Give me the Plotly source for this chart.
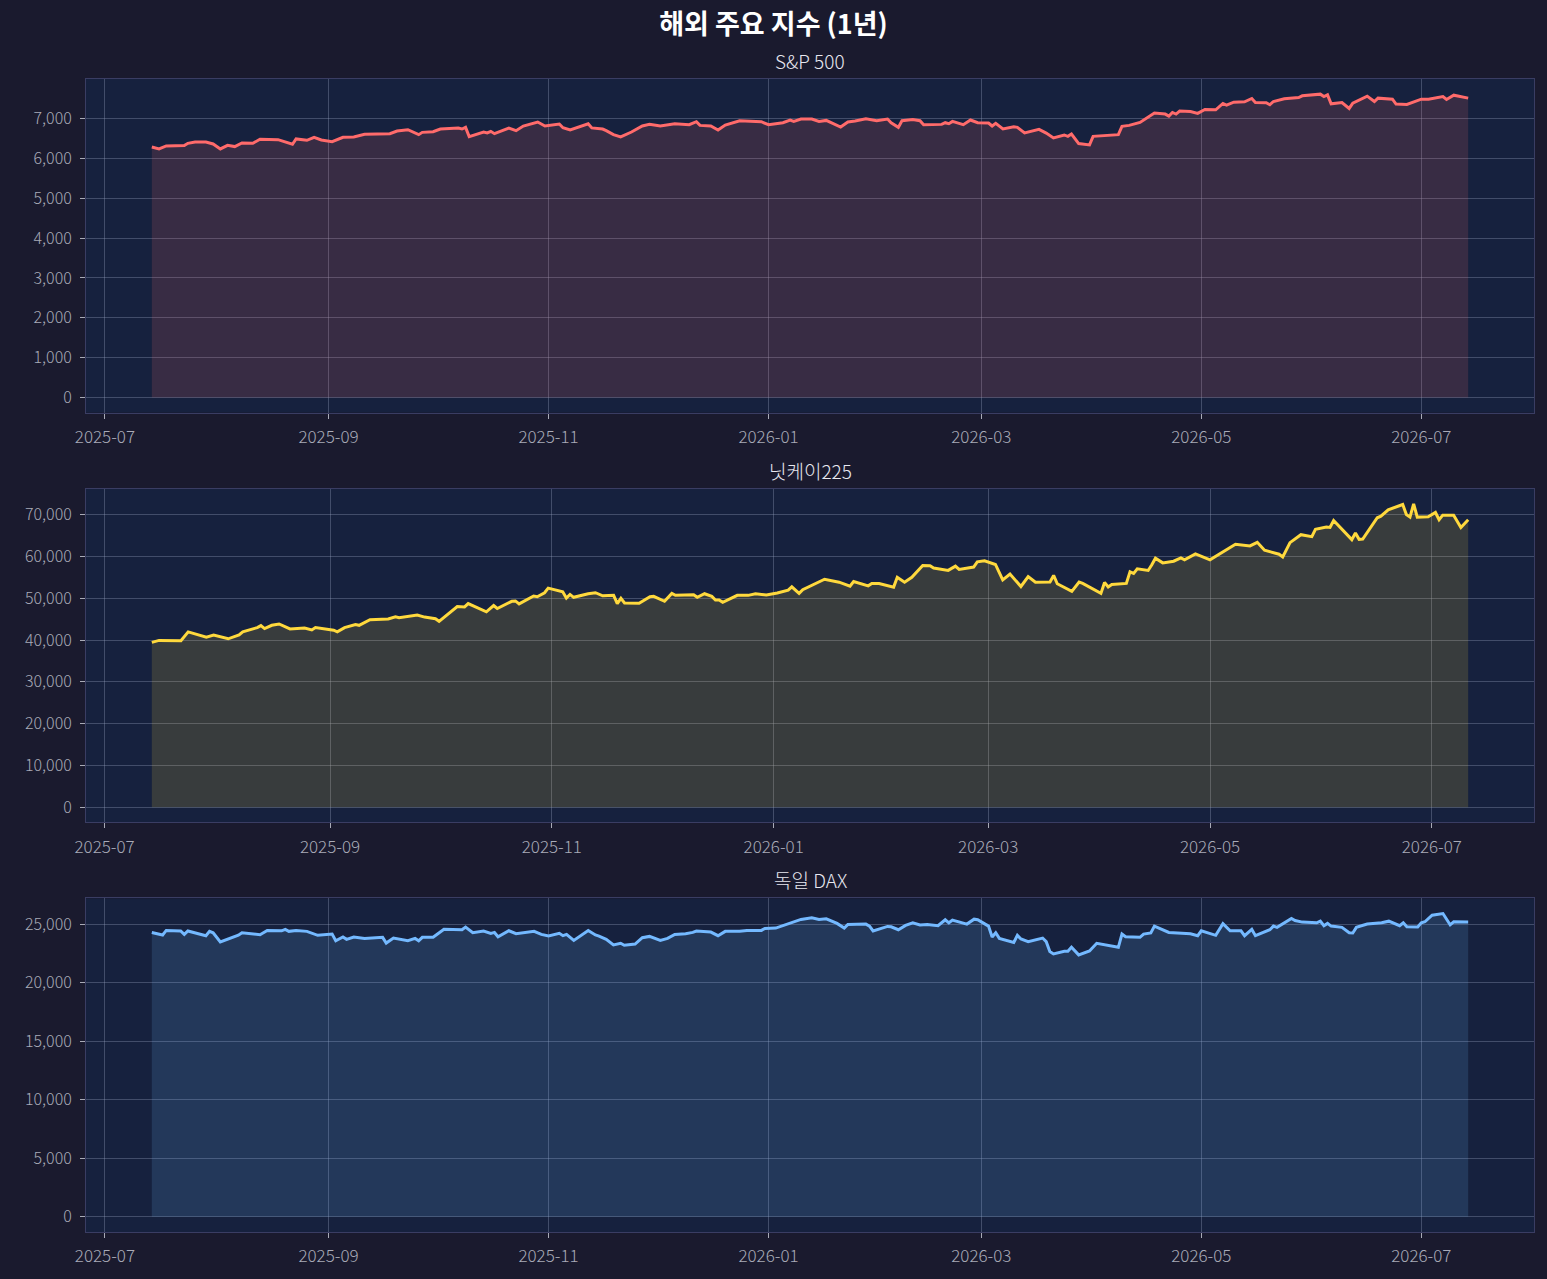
import pandas as pd
import plotly.graph_objects as go
from plotly.subplots import make_subplots

# S&P 500
sp_dates = ["2025-07-14", "2025-07-16", "2025-07-18", "2025-07-23", "2025-07-24", "2025-07-26", "2025-07-29",
            "2025-07-31", "2025-08-02", "2025-08-04", "2025-08-06", "2025-08-08", "2025-08-11", "2025-08-13",
            "2025-08-18", "2025-08-22", "2025-08-23", "2025-08-26", "2025-08-28", "2025-08-30", "2025-09-02",
            "2025-09-05", "2025-09-08", "2025-09-11", "2025-09-18", "2025-09-20", "2025-09-23", "2025-09-26",
            "2025-09-27", "2025-09-30", "2025-10-02", "2025-10-07", "2025-10-08", "2025-10-09", "2025-10-10",
            "2025-10-14", "2025-10-15", "2025-10-16", "2025-10-17", "2025-10-21", "2025-10-23", "2025-10-25",
            "2025-10-29", "2025-10-31", "2025-11-04", "2025-11-05", "2025-11-07", "2025-11-12", "2025-11-13",
            "2025-11-16", "2025-11-17", "2025-11-19", "2025-11-21", "2025-11-24", "2025-11-27", "2025-11-29",
            "2025-12-02", "2025-12-06", "2025-12-10", "2025-12-12", "2025-12-13", "2025-12-16", "2025-12-18",
            "2025-12-20", "2025-12-24", "2025-12-30", "2026-01-01", "2026-01-05", "2026-01-07", "2026-01-08",
            "2026-01-10", "2026-01-13", "2026-01-15", "2026-01-17", "2026-01-21", "2026-01-23", "2026-01-25",
            "2026-01-28", "2026-01-31", "2026-02-03", "2026-02-04", "2026-02-06", "2026-02-07", "2026-02-10",
            "2026-02-12", "2026-02-13", "2026-02-18", "2026-02-19", "2026-02-20", "2026-02-21", "2026-02-24",
            "2026-02-26", "2026-02-28", "2026-03-03", "2026-03-04", "2026-03-05", "2026-03-07", "2026-03-10",
            "2026-03-11", "2026-03-13", "2026-03-17", "2026-03-19", "2026-03-21", "2026-03-24", "2026-03-25",
            "2026-03-26", "2026-03-28", "2026-03-31", "2026-04-01", "2026-04-08", "2026-04-09", "2026-04-11",
            "2026-04-14", "2026-04-16", "2026-04-18", "2026-04-21", "2026-04-22", "2026-04-23", "2026-04-24",
            "2026-04-25", "2026-04-28", "2026-04-30", "2026-05-02", "2026-05-05", "2026-05-07", "2026-05-08",
            "2026-05-10", "2026-05-13", "2026-05-15", "2026-05-16", "2026-05-19", "2026-05-20", "2026-05-21",
            "2026-05-24", "2026-05-28", "2026-05-29", "2026-06-03", "2026-06-04", "2026-06-05", "2026-06-06",
            "2026-06-09", "2026-06-11", "2026-06-12", "2026-06-16", "2026-06-18", "2026-06-19", "2026-06-23",
            "2026-06-24", "2026-06-27", "2026-07-01", "2026-07-03", "2026-07-07", "2026-07-08", "2026-07-10",
            "2026-07-14"]
sp_values = [6290, 6242, 6317, 6325, 6383, 6417, 6417, 6367, 6242, 6333, 6300, 6392, 6383, 6483,
             6475, 6358, 6492, 6458, 6533, 6467, 6425, 6533, 6542, 6608, 6625, 6692, 6725, 6600,
             6658, 6675, 6742, 6767, 6742, 6783, 6550, 6667, 6642, 6683, 6625, 6767, 6700, 6817,
             6917, 6817, 6867, 6775, 6717, 6875, 6770, 6740, 6700, 6600, 6542, 6667, 6817, 6858,
             6817, 6875, 6850, 6925, 6833, 6817, 6717, 6842, 6950, 6925, 6850, 6900, 6967, 6933,
             6992, 6992, 6933, 6958, 6792, 6917, 6942, 7000, 6950, 6992, 6900, 6783, 6950, 6983,
             6950, 6850, 6858, 6900, 6875, 6933, 6850, 6967, 6900, 6892, 6817, 6883, 6742, 6800,
             6783, 6642, 6733, 6640, 6517, 6592, 6558, 6617, 6375, 6342, 6558, 6600, 6808, 6833,
             6908, 7025, 7142, 7117, 7067, 7158, 7117, 7192, 7183, 7133, 7233, 7225, 7383, 7342,
             7417, 7425, 7508, 7408, 7400, 7350, 7433, 7500, 7533, 7575, 7617, 7558, 7600, 7375,
             7408, 7258, 7392, 7567, 7433, 7517, 7492, 7367, 7358, 7492, 7492, 7558, 7483, 7592,
             7517]

# Nikkei 225
nk_dates = ["2025-07-14", "2025-07-16", "2025-07-22", "2025-07-24", "2025-07-29", "2025-07-31", "2025-08-04",
            "2025-08-07", "2025-08-08", "2025-08-12", "2025-08-13", "2025-08-14", "2025-08-16", "2025-08-18",
            "2025-08-21", "2025-08-25", "2025-08-27", "2025-08-28", "2025-09-02", "2025-09-03", "2025-09-05",
            "2025-09-08", "2025-09-09", "2025-09-12", "2025-09-17", "2025-09-19", "2025-09-20", "2025-09-25",
            "2025-09-27", "2025-09-30", "2025-10-01", "2025-10-06", "2025-10-08", "2025-10-09", "2025-10-14",
            "2025-10-16", "2025-10-17", "2025-10-21", "2025-10-22", "2025-10-23", "2025-10-27", "2025-10-28",
            "2025-10-30", "2025-10-31", "2025-11-04", "2025-11-05", "2025-11-06", "2025-11-07", "2025-11-11",
            "2025-11-13", "2025-11-15", "2025-11-18", "2025-11-19", "2025-11-20", "2025-11-21", "2025-11-25",
            "2025-11-28", "2025-11-29", "2025-12-02", "2025-12-04", "2025-12-05", "2025-12-10", "2025-12-11",
            "2025-12-13", "2025-12-15", "2025-12-16", "2025-12-17", "2025-12-18", "2025-12-22", "2025-12-25",
            "2025-12-27", "2025-12-30", "2026-01-02", "2026-01-05", "2026-01-06", "2026-01-08", "2026-01-09",
            "2026-01-13", "2026-01-15", "2026-01-19", "2026-01-22", "2026-01-23", "2026-01-27", "2026-01-28",
            "2026-01-30", "2026-02-03", "2026-02-04", "2026-02-06", "2026-02-08", "2026-02-11", "2026-02-13",
            "2026-02-14", "2026-02-18", "2026-02-20", "2026-02-21", "2026-02-25", "2026-02-26", "2026-02-28",
            "2026-03-03", "2026-03-05", "2026-03-07", "2026-03-10", "2026-03-12", "2026-03-14", "2026-03-18",
            "2026-03-19", "2026-03-20", "2026-03-24", "2026-03-26", "2026-03-27", "2026-04-01", "2026-04-02",
            "2026-04-03", "2026-04-04", "2026-04-08", "2026-04-09", "2026-04-10", "2026-04-11", "2026-04-14",
            "2026-04-15", "2026-04-16", "2026-04-18", "2026-04-21", "2026-04-23", "2026-04-24", "2026-04-27",
            "2026-05-01", "2026-05-08", "2026-05-12", "2026-05-14", "2026-05-16", "2026-05-20", "2026-05-21",
            "2026-05-23", "2026-05-26", "2026-05-29", "2026-05-30", "2026-06-02", "2026-06-03", "2026-06-04",
            "2026-06-09", "2026-06-10", "2026-06-11", "2026-06-12", "2026-06-14", "2026-06-16", "2026-06-17",
            "2026-06-19", "2026-06-23", "2026-06-24", "2026-06-25", "2026-06-26", "2026-06-27", "2026-06-30",
            "2026-07-02", "2026-07-03", "2026-07-04", "2026-07-07", "2026-07-09", "2026-07-11"]
nk_values = [39450, 39920, 39840, 41970, 40710, 41180, 40310, 41260, 41970, 42990, 43460, 42760, 43540, 43860,
             42680, 42910, 42440, 42990, 42360, 41970, 42990, 43700, 43540, 44880, 45040, 45590, 45350, 45980,
             45510, 45120, 44490, 48030, 47950, 48740, 46770, 48270, 47560, 49290, 49370, 48660, 50550, 50390,
             51340, 52440, 51570, 50080, 50940, 50240, 51100, 51340, 50600, 50710, 48740, 50000, 48900, 48820,
             50390, 50470, 49290, 51180, 50710, 50870, 50240, 51100, 50470, 49610, 49610, 49060, 50710, 50710,
             51100, 50790, 51260, 51970, 52760, 51180, 52050, 53700, 54570, 53860, 52910, 54020, 52990, 53540,
             53540, 52680, 55040, 53860, 55040, 57870, 57800, 57240, 56690, 57720, 56930, 57480, 58740, 58980,
             58110, 54410, 55830, 52830, 55200, 53860, 53890, 55480, 53490, 51670, 53890, 53570, 51190, 53810,
             52700, 53330, 53570, 56350, 55950, 57060, 56670, 58020, 59600, 58490, 58890, 59680, 59210, 60630,
             59210, 62940, 62540, 63410, 61510, 60560, 59920, 63330, 65240, 64760, 66510, 67060, 66980, 68650,
             64050, 65630, 64130, 64210, 66830, 69290, 69680, 71190, 72460, 70080, 69450, 72620, 69450, 69530,
             70560, 68810, 69920, 69920, 66980, 68810]

# DAX
dax_dates = ["2025-07-14", "2025-07-17", "2025-07-18", "2025-07-22", "2025-07-23", "2025-07-24", "2025-07-29",
             "2025-07-30", "2025-07-31", "2025-08-02", "2025-08-07", "2025-08-08", "2025-08-13", "2025-08-15",
             "2025-08-19", "2025-08-20", "2025-08-21", "2025-08-23", "2025-08-26", "2025-08-29", "2025-09-02",
             "2025-09-03", "2025-09-05", "2025-09-06", "2025-09-08", "2025-09-11", "2025-09-16", "2025-09-17",
             "2025-09-19", "2025-09-23", "2025-09-25", "2025-09-26", "2025-09-27", "2025-09-30", "2025-10-03",
             "2025-10-08", "2025-10-09", "2025-10-11", "2025-10-14", "2025-10-16", "2025-10-17", "2025-10-18",
             "2025-10-21", "2025-10-23", "2025-10-28", "2025-10-30", "2025-11-01", "2025-11-04", "2025-11-05",
             "2025-11-06", "2025-11-08", "2025-11-12", "2025-11-14", "2025-11-15", "2025-11-17", "2025-11-19",
             "2025-11-21", "2025-11-22", "2025-11-25", "2025-11-27", "2025-11-29", "2025-12-02", "2025-12-04",
             "2025-12-06", "2025-12-09", "2025-12-11", "2025-12-12", "2025-12-16", "2025-12-18", "2025-12-20",
             "2025-12-24", "2025-12-26", "2025-12-30", "2025-12-31", "2026-01-03", "2026-01-05", "2026-01-08",
             "2026-01-10", "2026-01-13", "2026-01-15", "2026-01-17", "2026-01-20", "2026-01-22", "2026-01-23",
             "2026-01-28", "2026-01-29", "2026-01-30", "2026-02-03", "2026-02-04", "2026-02-06", "2026-02-08",
             "2026-02-10", "2026-02-12", "2026-02-14", "2026-02-17", "2026-02-19", "2026-02-20", "2026-02-21",
             "2026-02-25", "2026-02-27", "2026-02-28", "2026-03-03", "2026-03-04", "2026-03-05", "2026-03-06",
             "2026-03-10", "2026-03-11", "2026-03-12", "2026-03-14", "2026-03-18", "2026-03-19", "2026-03-20",
             "2026-03-21", "2026-03-24", "2026-03-25", "2026-03-26", "2026-03-28", "2026-03-31", "2026-04-02",
             "2026-04-08", "2026-04-09", "2026-04-10", "2026-04-14", "2026-04-15", "2026-04-17", "2026-04-18",
             "2026-04-22", "2026-04-28", "2026-04-30", "2026-05-01", "2026-05-05", "2026-05-07", "2026-05-09",
             "2026-05-12", "2026-05-13", "2026-05-15", "2026-05-16", "2026-05-20", "2026-05-21", "2026-05-22",
             "2026-05-26", "2026-05-27", "2026-05-29", "2026-06-02", "2026-06-03", "2026-06-04", "2026-06-05",
             "2026-06-06", "2026-06-09", "2026-06-11", "2026-06-12", "2026-06-13", "2026-06-16", "2026-06-19",
             "2026-06-20", "2026-06-22", "2026-06-25", "2026-06-26", "2026-06-27", "2026-06-30", "2026-07-01",
             "2026-07-02", "2026-07-04", "2026-07-07", "2026-07-09", "2026-07-10", "2026-07-14"]
dax_values = [24290, 24070, 24460, 24410, 24120, 24410, 24010, 24380, 24260, 23470, 24050, 24260, 24090, 24460,
              24430, 24550, 24380, 24460, 24380, 24040, 24150, 23580, 23900, 23700, 23900, 23780, 23870, 23380,
              23810, 23580, 23780, 23580, 23870, 23870, 24550, 24520, 24750, 24260, 24410, 24210, 24290, 23920,
              24430, 24180, 24380, 24120, 23980, 24210, 24010, 24120, 23610, 24460, 24070, 23980, 23700, 23220,
              23360, 23190, 23300, 23840, 23950, 23610, 23780, 24120, 24180, 24290, 24410, 24320, 24010, 24380,
              24380, 24460, 24460, 24630, 24660, 24890, 25200, 25400, 25540, 25400, 25450, 25060, 24660, 24970,
              25000, 24830, 24410, 24800, 24770, 24520, 24890, 25110, 24920, 24970, 24860, 25370, 25110, 25340,
              25000, 25420, 25370, 24830, 23900, 24260, 23780, 23440, 24040, 23730, 23500, 23810, 23500, 22650,
              22450, 22680, 22680, 23020, 22370, 22710, 23360, 23020, 24150, 23920, 23870, 24150, 24240, 24830,
              24290, 24180, 24010, 24430, 24040, 25030, 24430, 24430, 24010, 24550, 24010, 24520, 24830, 24720,
              25480, 25310, 25170, 25110, 25250, 24860, 25060, 24830, 24720, 24260, 24240, 24720, 25000, 25060,
              25110, 25250, 24860, 25110, 24770, 24750, 25110, 25200, 25760, 25900, 24940, 25200, 25170]

titles = ["S&P 500", "닛케이225", "독일 DAX"]
line_colors = ["#ff6b6b", "#ffd93d", "#74b9ff"]
fill_colors = ["rgba(255,107,107,0.15)", "rgba(255,217,61,0.15)", "rgba(116,185,255,0.15)"]
y_dticks = [1000, 10000, 5000]

series = [(sp_dates, sp_values), (nk_dates, nk_values), (dax_dates, dax_values)]

fig = make_subplots(rows=3, cols=1, vertical_spacing=0.066)

font_name = "Noto Sans CJK KR"
grid_c = "rgba(150,160,190,0.35)"
frame_c = "#3a3d63"
tick_c = "#a9abb8"

for i, (dates, values) in enumerate(series):
    row = i + 1
    x = pd.to_datetime(dates)
    fig.add_trace(go.Scatter(x=x, y=values, mode="lines", fill="tozeroy",
                             fillcolor=fill_colors[i],
                             line=dict(color=line_colors[i], width=3),
                             showlegend=False, hoverinfo="x+y"), row=row, col=1)
    # matplotlib-like 5% margins
    pad = (x.max() - x.min()) * 0.05
    ymax = max(values)
    fig.update_xaxes(range=[x.min() - pad, x.max() + pad], type="date",
                     tick0="2025-07-01", dtick="M2", tickformat="%Y-%m",
                     showgrid=True, gridcolor=grid_c, gridwidth=1,
                     showline=True, mirror=True, linecolor=frame_c, linewidth=1,
                     ticks="outside", ticklen=5, tickcolor=tick_c, ticklabelstandoff=4,
                     tickfont=dict(family=font_name, size=17, color=tick_c, weight=300),
                     zeroline=False, row=row, col=1)
    fig.update_yaxes(range=[-0.05 * ymax, ymax * 1.05], dtick=y_dticks[i], tickformat=",d",
                     showgrid=True, gridcolor=grid_c, gridwidth=1,
                     showline=True, mirror=True, linecolor=frame_c, linewidth=1,
                     ticks="outside", ticklen=5, tickcolor=tick_c, ticklabelstandoff=5,
                     tickfont=dict(family=font_name, size=16, color=tick_c, weight=300),
                     zeroline=False, row=row, col=1)

# subplot titles
for i, t in enumerate(titles):
    yax = fig.layout["yaxis" if i == 0 else "yaxis%d" % (i + 1)]
    fig.add_annotation(text=t, x=0.5, xref="paper", y=yax.domain[1], yref="paper",
                       yanchor="bottom", yshift=3, showarrow=False,
                       font=dict(family=font_name, size=19, color="#e8e8f0", weight=300))

fig.update_layout(
    width=1547, height=1279,
    paper_bgcolor="#1a1a2e", plot_bgcolor="#16213e",
    margin=dict(l=86, r=12, t=79, b=35),
    title=dict(text="<b>해외 주요 지수 (1년)</b>", x=0.5, xref="container", xanchor="center",
               y=1 - 25 / 1279, yref="container", yanchor="middle",
               font=dict(family=font_name, size=27, color="#ffffff")),
    font=dict(family=font_name),
)

fig.write_html("out.html", config={"displayModeBar": False},
               post_script="document.body.style.margin='0';document.body.style.overflow='hidden';")
